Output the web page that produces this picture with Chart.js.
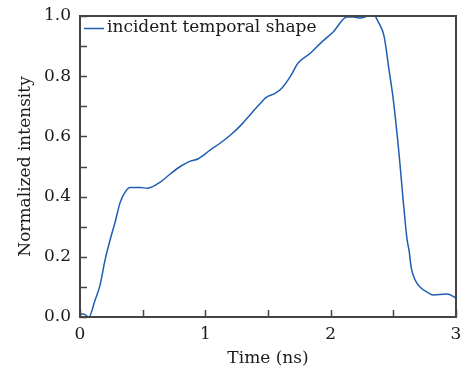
<!DOCTYPE html>
<html>
<head>
<meta charset="utf-8">
<script src="https://cdn.jsdelivr.net/npm/chart.js@4"></script>
<style>
  html, body { margin: 0; padding: 0; background: #fff; }
  #wrap { width: 460px; height: 374px; }
</style>
</head>
<body>
<div id="wrap"><canvas id="jsPulseCanvas" width="460" height="374"></canvas></div>
<script>
// data
const timeNs = [0, 0.03, 0.07, 0.12, 0.16, 0.2, 0.24, 0.28, 0.32, 0.36, 0.4, 0.48, 0.54, 0.64, 0.72, 0.8,
  0.88, 0.94, 1.04, 1.12, 1.21, 1.29, 1.37, 1.44, 1.48, 1.56, 1.61, 1.68, 1.74, 1.84, 1.92, 2.02, 2.13,
  2.18, 2.24, 2.3, 2.35, 2.38, 2.426, 2.466, 2.498, 2.546, 2.578, 2.61, 2.626, 2.642, 2.674, 2.713,
  2.769, 2.817, 2.93, 3.0];
const intensity = [0.01, 0.01, 0.0, 0.056, 0.106, 0.19, 0.256, 0.315, 0.38, 0.415, 0.43, 0.43, 0.428,
  0.448, 0.475, 0.5, 0.518, 0.525, 0.555, 0.578, 0.608, 0.64, 0.678, 0.71, 0.728, 0.744, 0.76, 0.8,
  0.844, 0.877, 0.91, 0.947, 0.997, 0.997, 0.993, 1.0, 1.0, 0.98, 0.933, 0.82, 0.728, 0.54, 0.39,
  0.256, 0.22, 0.166, 0.123, 0.1, 0.083, 0.073, 0.076, 0.063];
const xTicks = [0, 0.5, 1, 1.5, 2, 2.5, 3];
const yTicks = [0, 0.1, 0.2, 0.3, 0.4, 0.5, 0.6, 0.7, 0.8, 0.9, 1.0];

const FONT = "'DejaVu Serif', serif";
const INK = "#1a1a1a";
const FRAME = "#444";

// frame, inward ticks and the in-plot legend
const framePlugin = {
  id: "frame",
  afterDatasetsDraw(chart) {
    const { ctx, chartArea: a, scales } = chart;
    ctx.save();
    ctx.strokeStyle = FRAME;
    ctx.lineWidth = 1.5;
    ctx.beginPath();
    xTicks.forEach((v) => {
      const px = Math.round(scales.x.getPixelForValue(v)) + 0.5;
      ctx.moveTo(px, a.bottom);
      ctx.lineTo(px, a.bottom - 7);
    });
    yTicks.forEach((v) => {
      const py = Math.round(scales.y.getPixelForValue(v)) + 0.5;
      ctx.moveTo(a.left, py);
      ctx.lineTo(a.left + 7, py);
    });
    ctx.stroke();
    ctx.lineWidth = 2;
    ctx.strokeRect(a.left, a.top, a.right - a.left, a.bottom - a.top);

    // legend
    const ds = chart.data.datasets[0];
    const ly = a.top + 12.5;
    ctx.strokeStyle = ds.borderColor;
    ctx.lineWidth = ds.borderWidth;
    ctx.beginPath();
    ctx.moveTo(a.left + 4, ly);
    ctx.lineTo(a.left + 24, ly);
    ctx.stroke();
    ctx.fillStyle = INK;
    ctx.font = "17px " + FONT;
    ctx.textBaseline = "middle";
    ctx.fillText(ds.label, a.left + 27, ly - 1);
    ctx.restore();
  },
};

const pulseChart = () => {
  const canvas = document.getElementById("jsPulseCanvas").getContext("2d");

  new Chart(canvas, {
    type: "line",
    data: {
      datasets: [
        {
          label: "incident temporal shape",
          data: timeNs.map((t, i) => ({ x: t, y: intensity[i] })),
          borderColor: "#1f5db3",
          backgroundColor: "#1f5db3",
          borderWidth: 1.5,
          pointRadius: 0,
          cubicInterpolationMode: "monotone",
          fill: false,
        },
      ],
    },
    options: {
      responsive: false,
      animation: false,
      layout: { padding: { top: 16, right: 4, left: 0, bottom: 0 } },
      plugins: {
        tooltip: { enabled: false },
        legend: { display: false },
      },
      scales: {
        x: {
          type: "linear",
          min: 0,
          max: 3,
          grid: { display: false, drawTicks: false },
          border: { display: false },
          ticks: {
            stepSize: 1,
            padding: 7,
            color: INK,
            font: { family: FONT, size: 17 },
          },
          title: {
            display: true,
            text: "Time (ns)",
            color: INK,
            font: { family: FONT, size: 17, lineHeight: 1.2 },
            padding: { top: 0, bottom: 5 },
          },
          afterFit: (scale) => {
            scale.height = 57;
            scale.paddingLeft = 0;
            scale.paddingRight = 0;
          },
        },
        y: {
          min: 0,
          max: 1,
          grid: { display: false, drawTicks: false },
          border: { display: false },
          ticks: {
            stepSize: 0.2,
            padding: 9,
            color: INK,
            font: { family: FONT, size: 17 },
            callback: (v) => v.toFixed(1),
          },
          title: {
            display: true,
            text: "Normalized intensity",
            color: INK,
            font: { family: FONT, size: 17, lineHeight: 1.2 },
            padding: { top: 15, bottom: 0 },
          },
          afterFit: (scale) => {
            scale.width = 80;
            scale.paddingTop = 0;
            scale.paddingBottom = 0;
          },
        },
      },
    },
    plugins: [framePlugin],
  });
};

window.addEventListener("DOMContentLoaded", pulseChart);
</script>
</body>
</html>
